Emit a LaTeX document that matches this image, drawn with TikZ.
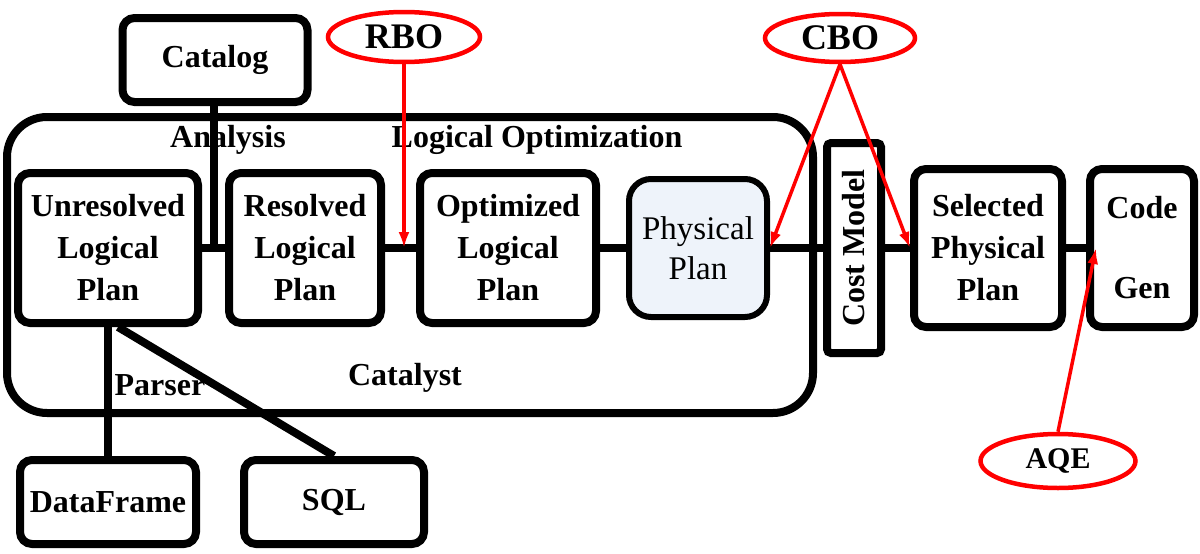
\documentclass[tikz,border=0pt]{standalone}
\usepackage{fontspec}
\setmainfont{Liberation Serif}
\usetikzlibrary{arrows.meta,shapes.geometric,calc}
\definecolor{planfill}{HTML}{EEF3FA}
\tikzset{
  plan/.style={draw, line width=8pt, rounded corners=12pt, align=center,
    font=\bfseries\fontsize{32}{42}\selectfont, inner sep=0pt},
  tag/.style={font=\bfseries\fontsize{32}{38}\selectfont, inner sep=0pt},
  bubble/.style={draw=red, line width=4.5pt, ellipse, inner sep=0pt,
    font=\bfseries\fontsize{36}{40}\selectfont},
  hint/.style={red, line width=3.5pt, -{Latex[length=16pt,width=11pt]}},
  link/.style={line width=8pt},
}
\begin{document}
\begin{tikzpicture}[x=1pt,y=-1pt]
\useasboundingbox (0,0) rectangle (1200,554);

% Catalyst frame
\node[draw, line width=8pt, rounded corners=40pt, minimum width=806pt,
  minimum height=296pt] (frame) at (410,265) {};

% Plans
\node[plan, minimum width=180pt, minimum height=150pt] (unresolved) at (108,248) {Unresolved\\Logical\\Plan};
\node[plan, minimum width=152pt, minimum height=150pt] (resolved) at (305,248) {Resolved\\Logical\\Plan};
\node[plan, minimum width=176pt, minimum height=150pt] (optimized) at (508,248) {Optimized\\Logical\\Plan};
\node[plan, line width=6pt, rounded corners=22pt, fill=planfill, minimum width=138pt,
  minimum height=138pt, font=\fontsize{33}{40}\selectfont] (physical) at (698,248) {Physical\\Plan};
\node[plan, rounded corners=4pt, minimum width=54pt, minimum height=210pt] (cost) at (854,248) {};
\node[tag, rotate=90] (costtext) at (cost) {Cost Model};
\node[plan, minimum width=148pt, minimum height=158pt] (selected) at (988,248) {Selected\\Physical\\Plan};
\node[plan, minimum width=104pt, minimum height=158pt] (codegen) at (1142,248) {Code\\[38pt]Gen};

% Inputs and catalog
\node[plan, minimum width=185pt, minimum height=84pt] (catalog) at (215,60) {Catalog};
\node[plan, minimum width=176pt, minimum height=84pt] (dataframe) at (108,502) {DataFrame};
\node[plan, minimum width=180pt, minimum height=84pt] (sql) at (334,502) {SQL};

% Phase labels
\node[tag] (analysis) at (228,140) {Analysis};
\node[tag] (logopt) at (537,140) {Logical Optimization};
\node[tag] (parser) at (160,385) {Parser};
\node[tag] (catalyst) at (405,378) {Catalyst};

% Connectors
\coordinate (join) at ($(unresolved.east)!0.5!(resolved.west)$);
\draw[link] (unresolved.east) -- (resolved.west);
\draw[link] (catalog.south -| join) -- (join);
\draw[link] (resolved.east) -- (optimized.west);
\draw[link] (optimized.east) -- (physical.west);
\draw[link] (physical.east) -- (cost.west);
\draw[link] (cost.east) -- (selected.west);
\draw[link] (selected.east) -- (codegen.west);
\draw[link] (unresolved.south) -- (dataframe.north);
\draw[link] ([xshift=10pt]unresolved.south) -- (sql.north);

% Optimizer notes
\node[bubble, minimum width=152pt, minimum height=50pt] (rbo) at (404,37) {RBO};
\node[bubble, minimum width=150pt, minimum height=48pt] (cbo) at (840,38) {CBO};
\node[bubble, minimum width=155pt, minimum height=54pt, font=\bfseries\fontsize{30}{34}\selectfont] (aqe) at (1058,461) {AQE};
\coordinate (gap) at ($(resolved.east)!0.5!(optimized.west)$);
\draw[hint] (rbo.south) -- (rbo.south |- gap);
\draw[hint] (cbo.south) -- (physical.east);
\draw[hint] (cbo.south) -- (selected.west);
\draw[hint] (aqe.north) -- ([xshift=10pt]codegen.west);
\end{tikzpicture}
\end{document}
